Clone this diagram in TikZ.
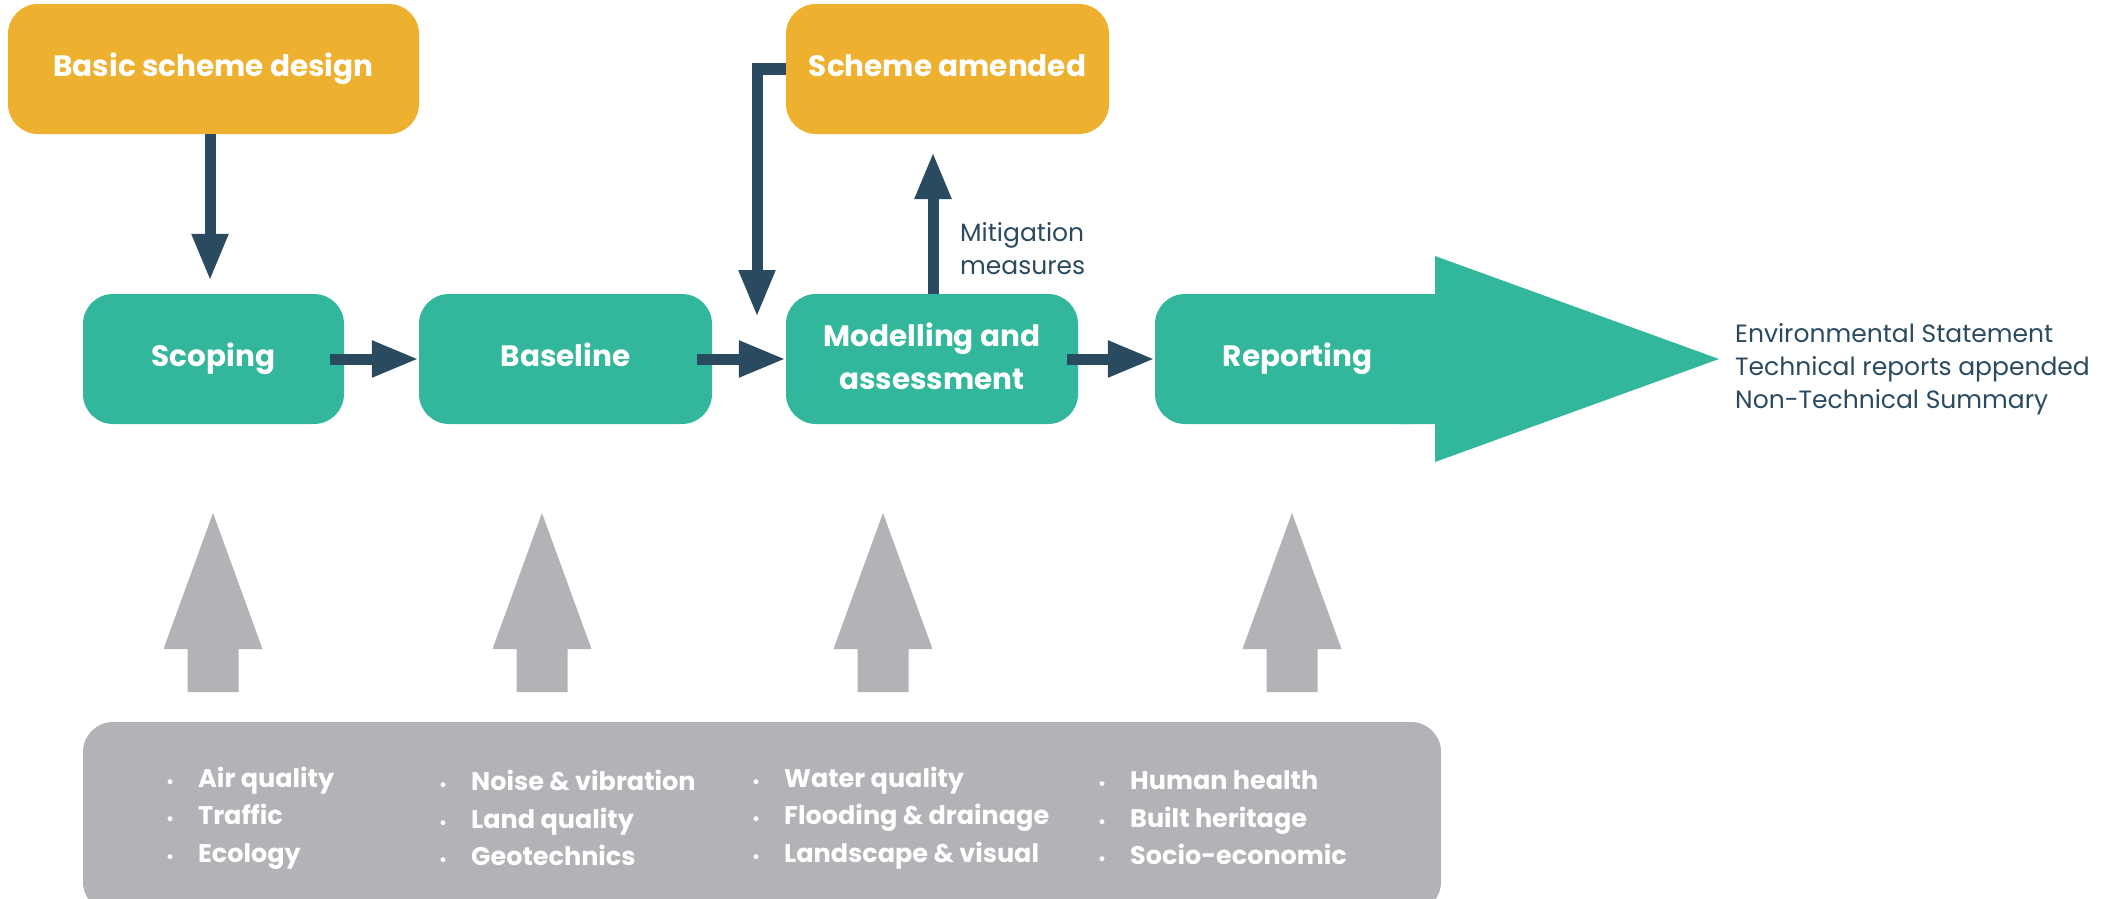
\documentclass[tikz,border=0pt]{standalone}
\usepackage{fontspec}
\setmainfont{Poppins}
\usetikzlibrary{arrows.meta,calc}
\definecolor{orng}{HTML}{EDB12F}
\definecolor{teal}{HTML}{32B79C}
\definecolor{navy}{HTML}{2A4A5F}
\definecolor{greyc}{HTML}{B2B3B6}
\newcommand\itm[1]{\makebox[32pt][l]{\fontsize{16}{16}\selectfont •}#1}
\begin{document}
\begin{tikzpicture}[x=1pt,y=-1pt,
  lbl/.style={font=\fontsize{29.5}{43}\selectfont\bfseries, text=white, align=center, text height=22pt, text depth=7pt},
  orangebox/.style={lbl, fill=orng, rounded corners=30pt, minimum height=130pt, inner sep=0pt},
  stage/.style={lbl, fill=teal, rounded corners=30pt, minimum height=130pt, inner sep=0pt},
  flow/.style={draw=navy, line width=11pt, -{Triangle[length=47pt,width=34pt]}},
  darktext/.style={text=navy, font=\fontsize{25}{33}\selectfont, align=left, inner sep=0pt},
  topic/.style={text=white, font=\fontsize{25.5}{37.5}\selectfont\bfseries, align=left, inner sep=0pt, anchor=west}]
\useasboundingbox (0,0) rectangle (2114,899);
% top boxes
\node[orangebox, minimum width=411pt] (basic) at (213.5,69) {Basic scheme design};
\node[orangebox, minimum width=323pt] (amend) at (947.5,69) {Scheme amended};
% big output arrow behind reporting
\fill[teal] (1400,294) -- (1435,294) -- (1435,256) -- (1719,359) -- (1435,462) -- (1435,424) -- (1400,424) -- cycle;
% stages
\node[stage, minimum width=261pt] (scoping) at (213.5,359) {Scoping};
\node[stage, minimum width=293pt] (baseline) at (565.5,359) {Baseline};
\node[stage, minimum width=292pt, text height=67pt, text depth=7pt] (model) at (932,359) {Modelling and\\assessment};
\node[stage, minimum width=285pt] (report) at (1297.5,359) {Reporting};
% dark arrows
\draw[flow] ($(scoping.east)+(-14,0)$) -- (baseline.west);
\draw[flow] ($(baseline.east)+(-15,0)$) -- (model.west);
\draw[flow] ($(model.east)+(-11,0)$) -- (report.west);
\draw[flow] ($(basic.south)+(-3.5,0)$) -- ($(scoping.north)+(-3.5,-13)$);
\coordinate (fbend) at (757,317);
\draw[flow] (amend.west) -| (fbend);
\coordinate (mtip) at (933,152);
\draw[flow] (mtip |- model.north) -- (mtip);
\node[darktext, anchor=west] (mit) at (960,249) {Mitigation\\measures};
\node[darktext, anchor=west] (out) at (1735,369) {Environmental Statement\\Technical reports appended\\Non-Technical Summary};
% grey input arrows
\foreach \cx in {213,542,883,1292}
  \fill[greyc] (\cx-25.5,692) -- (\cx-25.5,649) -- (\cx-49.5,649) -- (\cx,513) -- (\cx+49.5,649) -- (\cx+25.5,649) -- (\cx+25.5,692) -- cycle;
% topics box
\node[fill=greyc, rounded corners=30pt, minimum width=1358pt, minimum height=190pt, inner sep=0pt] (topics) at (762,817) {};
\node[topic] (c1) at (166,818) {\itm{Air quality}\\\itm{Traffic}\\\itm{Ecology}};
\node[topic] (c2) at (439,818) {\itm{Noise \& vibration}\\\itm{Land quality}\\\itm{Geotechnics}};
\node[topic] (c3) at (752,818) {\itm{Water quality}\\\itm{Flooding \& drainage}\\\itm{Landscape \& visual}};
\node[topic] (c4) at (1098,818) {\itm{Human health}\\\itm{Built heritage}\\\itm{Socio-economic}};
\end{tikzpicture}
\end{document}
